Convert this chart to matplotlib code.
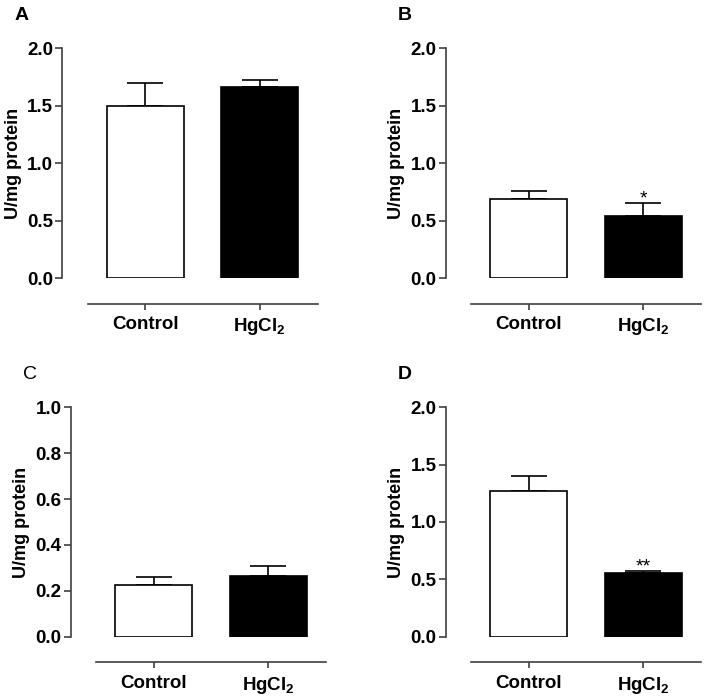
import numpy as np
import matplotlib
matplotlib.use('Agg')
import matplotlib.pyplot as plt

plt.rcParams['font.family'] = ['Liberation Sans', 'DejaVu Sans']
plt.rcParams['font.weight'] = 'bold'
plt.rcParams['mathtext.fontset'] = 'custom'
plt.rcParams['mathtext.rm'] = 'Liberation Sans'

# data
groups = ['Control', r'HgCl$_\mathrm{2}$']
panels = ['A', 'B', 'C', 'D']
means = {'A': [1.50, 1.665], 'B': [0.69, 0.54], 'C': [0.225, 0.265], 'D': [1.267, 0.555]}
sems = {'A': [0.195, 0.057], 'B': [0.07, 0.112], 'C': [0.037, 0.043], 'D': [0.138, 0.018]}
stars = {'A': ['', ''], 'B': ['', '*'], 'C': ['', ''], 'D': ['', '**']}
ymax = {'A': 2.0, 'B': 2.0, 'C': 1.0, 'D': 2.0}
yticks = {'A': [0.0, 0.5, 1.0, 1.5, 2.0], 'B': [0.0, 0.5, 1.0, 1.5, 2.0],
          'C': [0.0, 0.2, 0.4, 0.6, 0.8, 1.0], 'D': [0.0, 0.5, 1.0, 1.5, 2.0]}
letter_weight = {'A': 'bold', 'B': 'bold', 'C': 'normal', 'D': 'bold'}

W, H = 706, 698
fig = plt.figure(figsize=(W / 100, H / 100), dpi=100)

# axes boxes in pixels: left, top, zero-line
boxes = {'A': (62.3, 48.3, 278.3), 'B': (445.7, 48.3, 278.3),
         'C': (70.7, 407.3, 636.7), 'D': (445.7, 407.3, 636.7)}
aw = 255.3
spine_col = '#404040'

for p in panels:
    l, t, z = boxes[p]
    ax = fig.add_axes([l / W, 1 - z / H, aw / W, (z - t) / H])
    x = np.arange(len(groups))
    ax.bar(x, means[p], width=0.67, color=['white', 'black'], edgecolor='black',
           linewidth=1.2, zorder=3)
    ax.errorbar(x, means[p], yerr=[[0, 0], sems[p]], fmt='none', ecolor='black',
                elinewidth=1.2, capsize=13.3, capthick=1.2, zorder=2)
    for i in range(len(groups)):
        if stars[p][i]:
            ax.annotate(stars[p][i], (x[i], means[p][i] + sems[p][i]),
                        xytext=(0, -3), textcoords='offset points',
                        ha='center', va='bottom', fontsize=14, fontweight='normal')
    ax.set_xlim(-0.722, 1.503)
    ax.set_ylim(0, ymax[p])
    ax.set_yticks(yticks[p])
    ax.set_yticklabels(['%.1f' % v for v in yticks[p]])
    ax.set_xticks(x)
    ax.set_xticklabels(groups)
    ax.spines['top'].set_visible(False)
    ax.spines['right'].set_visible(False)
    ax.spines['left'].set_color(spine_col)
    ax.spines['bottom'].set_color(spine_col)
    ax.spines['left'].set_linewidth(1.2)
    ax.spines['bottom'].set_linewidth(1.2)
    ax.spines['bottom'].set_position(('outward', 18.5))
    ax.spines['bottom'].set_bounds(-0.5, 1.503)
    ax.tick_params(axis='y', length=5, width=1.2, color=spine_col, pad=1.5,
                   labelsize=13.5)
    ax.tick_params(axis='x', length=4, width=1.2, color=spine_col, pad=5,
                   labelsize=13.5)
    ax.set_ylabel('U/mg protein', fontsize=13, fontweight='bold', labelpad=4)
    ax.patch.set_visible(False)
    ax.text(-0.16, 1.0 + 33 / (z - t), p, transform=ax.transAxes, fontsize=14,
            fontweight=letter_weight[p], ha='center', va='center')

fig.savefig('out.png', dpi=100)
